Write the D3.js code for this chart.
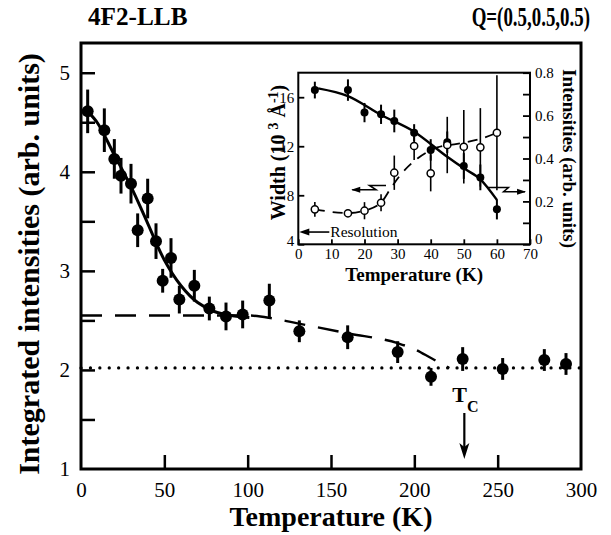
<!DOCTYPE html>
<html><head><meta charset="utf-8">
<script src="https://cdn.jsdelivr.net/npm/d3@7"></script>
<style>
body{margin:0;background:#fff}
text{font-family:"Liberation Serif","Times New Roman",serif;fill:#000}
</style>
</head><body>
<svg id="c" width="611" height="535"></svg>
<script>
// ---------------- data ----------------
const mainTemp = [4, 14, 20, 24, 30, 34, 40, 45, 49, 54, 59, 68, 77, 87, 97, 113, 131, 160, 190, 210, 229, 253, 278, 291];
const mainInt  = [4.61, 4.42, 4.13, 3.96, 3.88, 3.41, 3.73, 3.30, 2.90, 3.13, 2.71, 2.85, 2.62, 2.54, 2.56, 2.70, 2.39, 2.33, 2.18, 1.93, 2.11, 2.01, 2.10, 2.06];
const mainErr  = [0.22, 0.22, 0.20, 0.18, 0.20, 0.17, 0.20, 0.18, 0.12, 0.20, 0.14, 0.16, 0.12, 0.14, 0.14, 0.17, 0.11, 0.12, 0.11, 0.09, 0.12, 0.11, 0.11, 0.11];
const fitTemp  = [4, 10, 20, 30, 40, 50, 60, 70, 80, 90, 101];
const fitInt   = [4.61, 4.49, 4.17, 3.85, 3.48, 3.11, 2.85, 2.68, 2.59, 2.55, 2.53];
const dashTemp = [0, 100, 115, 130, 160, 190, 200, 210, 221];
const dashInt  = [2.55, 2.55, 2.52, 2.47, 2.37, 2.27, 2.21, 2.12, 2.02];
const backgroundLevel = 2.02;
const tcValue = 230;
const xTickVals = [0, 50, 100, 150, 200, 250, 300];
const yTickVals = [1, 1.5, 2, 2.5, 3, 3.5, 4, 4.5, 5];

const insetTemp   = [5, 15, 20, 25, 29, 35, 40, 45, 50, 55, 60];
const insetInt    = [0.719, 0.719, 0.614, 0.606, 0.575, 0.520, 0.440, 0.476, 0.365, 0.312, 0.163];
const insetIntErr = [0.039, 0.05, 0.045, 0.045, 0.053, 0.04, 0.05, 0.05, 0.06, 0.06, 0.047];
const insetWidth    = [6.85, 6.53, 6.74, 7.39, 9.84, 12.02, 9.79, 12.10, 11.96, 11.91, 13.10];
const insetWidthErr = [0.6, 0.3, 0.7, 0.7, 1.4, 1.15, 1.47, 2.3, 3.0, 3.2, 4.7];
const insetFitT = [6, 15, 25, 35, 45, 50, 55, 60];
const insetFitI = [0.727, 0.691, 0.603, 0.525, 0.408, 0.354, 0.303, 0.207];
const insetDashT = [5, 15, 20, 25, 28, 31, 36, 42, 48, 55, 60];
const insetDashW = [6.85, 6.55, 6.75, 7.4, 8.6, 9.7, 11.0, 11.9, 12.2, 12.6, 13.1];
const resolutionWidth = 5;
const insetXTicks = [0, 10, 20, 30, 40, 50, 60, 70];
const insetWTicks = [4, 8, 12, 16];
const insetITicks = [0, 0.1, 0.2, 0.3, 0.4, 0.5, 0.6, 0.7, 0.8];

// ---------------- main chart ----------------
const svg = d3.select("#c");
const L = 81, R = 581, T = 43, B = 469;
const x = d3.scaleLinear().domain([0, 300]).range([L, R]);
const y = d3.scaleLinear().domain([1, 5.3]).range([B, T]);

const xAxis = svg.append("g").attr("transform", `translate(0,${B})`)
  .call(d3.axisBottom(x).tickValues(xTickVals).tickSize(-14).tickPadding(13).tickFormat(d3.format("d")));
const yAxis = svg.append("g").attr("transform", `translate(${L},0)`)
  .call(d3.axisLeft(y).tickValues(yTickVals).tickSize(-14).tickPadding(11)
    .tickFormat(d => Number.isInteger(d) ? d : ""));
[xAxis, yAxis].forEach(a => {
  a.select(".domain").remove();
  a.selectAll(".tick line").attr("stroke", "#000").attr("stroke-width", 2.5);
  a.selectAll(".tick text").attr("font-size", 21).attr("font-family", "Liberation Serif");
});
xAxis.selectAll(".tick").filter(d => d === 0 || d === 300).select("line").remove();
yAxis.selectAll(".tick").filter(d => d === 1).select("line").remove();

// dotted background level
svg.append("line").attr("x1", x(0)).attr("x2", x(300))
  .attr("y1", y(backgroundLevel)).attr("y2", y(backgroundLevel))
  .attr("stroke", "#000").attr("stroke-width", 3.2).attr("stroke-linecap", "round")
  .attr("stroke-dasharray", "0.1,9.3");

// dashed line
const dashData = dashTemp.map((t, i) => [t, dashInt[i]]);
svg.append("path").datum(dashData)
  .attr("d", d3.line().x(d => x(d[0])).y(d => y(d[1])).curve(d3.curveMonotoneX))
  .attr("fill", "none").attr("stroke", "#000").attr("stroke-width", 2.4)
  .attr("stroke-dasharray", "21,13");

// solid fit
const fitData = fitTemp.map((t, i) => [t, fitInt[i]]);
svg.append("path").datum(fitData)
  .attr("d", d3.line().x(d => x(d[0])).y(d => y(d[1])).curve(d3.curveCatmullRom))
  .attr("fill", "none").attr("stroke", "#000").attr("stroke-width", 3);

// points
const mainPts = mainTemp.map((t, i) => ({t, v: mainInt[i], e: mainErr[i]}));
svg.append("g").selectAll("line").data(mainPts).join("line")
  .attr("x1", d => x(d.t)).attr("x2", d => x(d.t))
  .attr("y1", d => y(d.v - d.e)).attr("y2", d => y(d.v + d.e))
  .attr("stroke", "#000").attr("stroke-width", 3);
svg.append("g").selectAll("circle").data(mainPts).join("circle")
  .attr("cx", d => x(d.t)).attr("cy", d => y(d.v)).attr("r", 6).attr("fill", "#000");

// frame
svg.append("rect").attr("x", L).attr("y", T).attr("width", R - L).attr("height", B - T)
  .attr("fill", "none").attr("stroke", "#000").attr("stroke-width", 3);

// Tc annotation
const tcx = x(tcValue);
const tcText = svg.append("text").attr("x", tcx - 12).attr("y", 402).attr("font-size", 22).attr("font-weight", "bold");
tcText.append("tspan").text("T");
tcText.append("tspan").attr("dy", 10).attr("font-size", 16).text("C");
svg.append("line").attr("x1", tcx).attr("x2", tcx).attr("y1", 413).attr("y2", 448)
  .attr("stroke", "#000").attr("stroke-width", 2.2);
svg.append("path").attr("d", `M${tcx - 5},443 L${tcx},459 L${tcx + 5},443 L${tcx},447 Z`).attr("fill", "#000");

// titles and axis labels
svg.append("text").attr("transform", "translate(88,25) scale(0.97,1)").attr("font-size", 26).attr("font-weight", "bold")
  .text("4F2-LLB");
svg.append("text").attr("transform", "translate(590,26) scale(0.70,1)").attr("text-anchor", "end")
  .attr("font-size", 27).attr("font-weight", "bold").text("Q=(0.5,0.5,0.5)");
svg.append("text").attr("x", (L + R) / 2).attr("y", 526).attr("text-anchor", "middle")
  .attr("font-size", 28).attr("font-weight", "bold").text("Temperature (K)");
svg.append("text").attr("transform", `translate(39,${(T + B) / 2 + 8}) rotate(-90)`).attr("text-anchor", "middle")
  .attr("font-size", 30).attr("font-weight", "bold").text("Integrated intensities (arb. units)");

// ---------------- inset ----------------
const iL = 298.3, iR = 530, iT = 72.7, iB = 244.3;
const ix = d3.scaleLinear().domain([0, 70]).range([iL, iR]);
const iw = d3.scaleLinear().domain([4, 18]).range([iB, iT]);
const ii = d3.scaleLinear().domain([0, 0.8]).range([iB, iT]);
const ins = svg.append("g");
ins.append("rect").attr("x", iL).attr("y", iT).attr("width", iR - iL).attr("height", iB - iT).attr("fill", "#fff");

const ixAxis = ins.append("g").attr("transform", `translate(0,${iB})`)
  .call(d3.axisBottom(ix).tickValues(insetXTicks).tickSize(-5).tickPadding(4).tickFormat(d3.format("d")));
const iwAxis = ins.append("g").attr("transform", `translate(${iL},0)`)
  .call(d3.axisLeft(iw).tickValues(insetWTicks).tickSize(-6).tickPadding(4).tickFormat(d3.format("d")));
const iiAxis = ins.append("g").attr("transform", `translate(${iR},0)`)
  .call(d3.axisRight(ii).tickValues(insetITicks).tickSize(-7).tickPadding(5)
    .tickFormat(d => (Math.round(d * 10) % 2 === 0) ? d3.format(".1f")(d).replace(/^0\.0$/, "0") : ""));
[ixAxis, iwAxis, iiAxis].forEach(a => {
  a.select(".domain").remove();
  a.selectAll(".tick line").attr("stroke", "#000").attr("stroke-width", 1.8);
  a.selectAll(".tick text").attr("font-size", 15).attr("font-family", "Liberation Serif");
});
iiAxis.selectAll(".tick").filter(d => d === 0).select("text").attr("dy", "-0.05em");
iwAxis.selectAll(".tick").filter(d => d === 4).select("text").attr("dy", "0.1em");

// resolution arrow
const ry = iw(resolutionWidth);
ins.append("line").attr("x1", iL + 8).attr("x2", iL + 31).attr("y1", ry).attr("y2", ry).attr("stroke", "#000").attr("stroke-width", 1.6);
ins.append("path").attr("d", `M${iL + 1},${ry} L${iL + 11},${ry - 3.5} L${iL + 11},${ry + 3.5} Z`).attr("fill", "#000");
ins.append("text").attr("x", iL + 32).attr("y", ry + 5).attr("font-size", 15.5).text("Resolution");

// dashed width line
const idash = insetDashT.map((t, i) => [t, insetDashW[i]]);
ins.append("path").datum(idash)
  .attr("d", d3.line().x(d => ix(d[0])).y(d => iw(d[1])).curve(d3.curveMonotoneX))
  .attr("fill", "none").attr("stroke", "#000").attr("stroke-width", 1.8).attr("stroke-dasharray", "10,8");

// solid intensity fit
const ifit = insetFitT.map((t, i) => [t, insetFitI[i]]);
ins.append("path").datum(ifit)
  .attr("d", d3.line().x(d => ix(d[0])).y(d => ii(d[1])).curve(d3.curveMonotoneX))
  .attr("fill", "none").attr("stroke", "#000").attr("stroke-width", 2.4);

// error bars and points
const ipts = insetTemp.map((t, i) => ({t, I: insetInt[i], Ie: insetIntErr[i], W: insetWidth[i], We: insetWidthErr[i]}));
ins.append("g").selectAll("line").data(ipts).join("line")
  .attr("x1", d => ix(d.t)).attr("x2", d => ix(d.t))
  .attr("y1", d => iw(d.W - d.We)).attr("y2", d => iw(d.W + d.We))
  .attr("stroke", "#000").attr("stroke-width", 1.6);
ins.append("g").selectAll("line").data(ipts).join("line")
  .attr("x1", d => ix(d.t)).attr("x2", d => ix(d.t))
  .attr("y1", d => ii(d.I - d.Ie)).attr("y2", d => ii(d.I + d.Ie))
  .attr("stroke", "#000").attr("stroke-width", 2);
ins.append("g").selectAll("circle").data(ipts).join("circle")
  .attr("cx", d => ix(d.t)).attr("cy", d => ii(d.I)).attr("r", 4).attr("fill", "#000");
ins.append("g").selectAll("circle").data(ipts).join("circle")
  .attr("cx", d => ix(d.t)).attr("cy", d => iw(d.W)).attr("r", 3.6)
  .attr("fill", "#fff").attr("stroke", "#000").attr("stroke-width", 1.5);

// axis-assignment arrows
const la = [[ix(16.3), iw(8.45)], [ix(23.5), iw(8.45)], [ix(21.5), iw(8.8)], [ix(26.5), iw(8.8)]];
ins.append("path").attr("d", d3.line()(la)).attr("fill", "none").attr("stroke", "#000").attr("stroke-width", 1.5);
ins.append("path").attr("d", `M${la[0][0] - 1},${la[0][1]} L${la[0][0] + 8},${la[0][1] - 3} L${la[0][0] + 8},${la[0][1] + 3} Z`).attr("fill", "#000");
const ra = [[ix(57), ii(0.265)], [ix(63.5), ii(0.265)], [ix(62), ii(0.245)], [ix(68.5), ii(0.245)]];
ins.append("path").attr("d", d3.line()(ra)).attr("fill", "none").attr("stroke", "#000").attr("stroke-width", 1.5);
ins.append("path").attr("d", `M${ra[3][0] + 1},${ra[3][1]} L${ra[3][0] - 8},${ra[3][1] - 3} L${ra[3][0] - 8},${ra[3][1] + 3} Z`).attr("fill", "#000");

ins.append("rect").attr("x", iL).attr("y", iT).attr("width", iR - iL).attr("height", iB - iT)
  .attr("fill", "none").attr("stroke", "#000").attr("stroke-width", 2);

// inset labels
ins.append("text").attr("x", (iL + iR) / 2).attr("y", 281).attr("text-anchor", "middle")
  .attr("font-size", 19).attr("font-weight", "bold").text("Temperature (K)");
ins.append("text").attr("transform", `translate(563,${(iT + iB) / 2}) rotate(90)`).attr("text-anchor", "middle")
  .attr("font-size", 19).attr("font-weight", "bold").text("Intensities (arb. units)");
const wl = ins.append("text").attr("transform", `translate(285,${(iT + iB) / 2 - 6}) rotate(-90)`).attr("text-anchor", "middle")
  .attr("font-size", 20).attr("font-weight", "bold");
wl.append("tspan").text("Width (10 ");
wl.append("tspan").attr("dy", -7).attr("font-size", 14).text("3");
wl.append("tspan").attr("dy", 7).text(" Å");
wl.append("tspan").attr("dy", -7).attr("font-size", 14).text("-1");
wl.append("tspan").attr("dy", 7).text(")");
</script>
</body></html>
